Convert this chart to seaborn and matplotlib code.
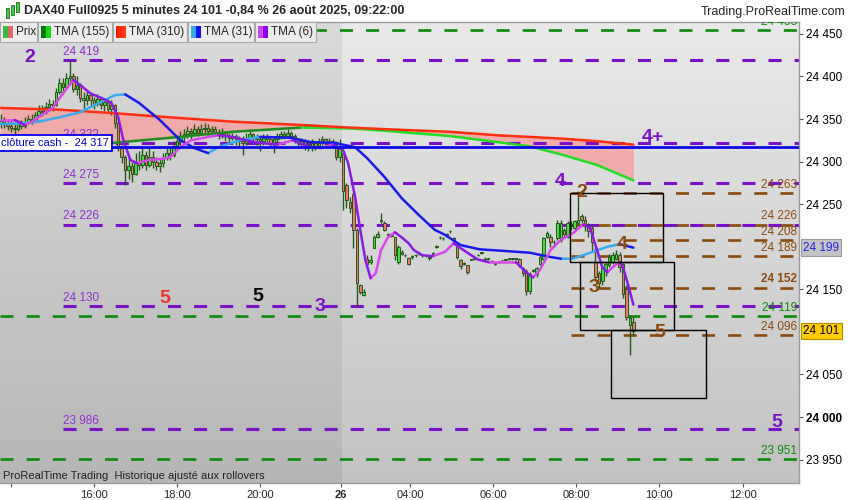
import numpy as np
import pandas as pd
import matplotlib
matplotlib.use("Agg")
import matplotlib.pyplot as plt
import matplotlib.transforms as mtransforms
from matplotlib.colors import LinearSegmentedColormap
from matplotlib.patches import Rectangle
import seaborn as sns

# x axis = 5 minute bar index, bar 0 = 16:00 on the 25th, bar 156 = 09:20 on the 26th
first_bar = -27

opens = [24345, 24348, 24345, 24342, 24340, 24338, 24344, 24342, 24347, 24350, 24348, 24355,
         24360, 24358, 24364, 24368, 24366, 24382, 24392, 24388, 24398, 24400, 24385, 24390,
         24375, 24372, 24378, 24372, 24368, 24374, 24366, 24370, 24362, 24366, 24345, 24318,
         24305, 24290, 24295, 24285, 24300, 24296, 24308, 24296, 24305, 24300, 24295, 24298,
         24304, 24310, 24308, 24318, 24324, 24330, 24332, 24336, 24334, 24338, 24334, 24338,
         24340, 24336, 24338, 24335, 24332, 24334, 24330, 24328, 24330, 24326, 24324, 24322,
         24328, 24332, 24328, 24326, 24324, 24328, 24326, 24322, 24326, 24330, 24332, 24330,
         24334, 24330, 24326, 24322, 24324, 24320, 24318, 24322, 24318, 24322, 24326, 24322,
         24324, 24320, 24306,
         24310, 24272, 24252, 24262, 24220, 24155, 24143, 24186, 24182, 24198, 24212, 24232,
         24228, 24214, 24214, 24211, 24182, 24194, 24190, 24187, 24188, 24190, 24192, 24190,
         24189, 24187, 24192, 24200, 24211, 24210, 24214, 24218, 24210, 24204, 24185, 24180,
         24178, 24185, 24186, 24190, 24193, 24186, 24186, 24183, 24180, 24182, 24184, 24185,
         24186, 24186, 24186, 24186, 24175, 24172, 24148, 24172, 24168, 24180, 24186, 24211,
         24212, 24206, 24210, 24208, 24220, 24212, 24224, 24222, 24228, 24236, 24232, 24224,
         24222, 24182, 24169, 24160, 24172, 24178, 24182, 24186, 24190, 24180, 24150, 24108,
         24112]
highs = [24356, 24352, 24350, 24348, 24344, 24348, 24349, 24352, 24355, 24356, 24358, 24366,
         24366, 24370, 24374, 24372, 24386, 24398, 24398, 24404, 24419, 24404, 24400, 24392,
         24382, 24384, 24380, 24376, 24380, 24376, 24375, 24374, 24372, 24368, 24348, 24320,
         24308, 24305, 24300, 24310, 24312, 24316, 24312, 24318, 24312, 24306, 24304, 24310,
         24316, 24316, 24324, 24330, 24336, 24338, 24342, 24340, 24344, 24342, 24344, 24345,
         24344, 24342, 24342, 24338, 24340, 24336, 24334, 24334, 24332, 24330, 24330, 24334,
         24338, 24334, 24332, 24330, 24332, 24332, 24330, 24330, 24334, 24336, 24336, 24338,
         24336, 24332, 24328, 24328, 24326, 24322, 24326, 24324, 24328, 24330, 24328, 24328,
         24326, 24324, 24326,
         24310, 24275, 24258, 24264, 24222, 24156, 24150, 24190, 24190, 24214, 24218, 24240,
         24230, 24216, 24216, 24212, 24202, 24196, 24192, 24188, 24190, 24192, 24194, 24192,
         24190, 24189, 24194, 24202, 24213, 24212, 24216, 24220, 24212, 24205, 24186, 24182,
         24179, 24186, 24187, 24191, 24194, 24188, 24187, 24184, 24181, 24183, 24185, 24186,
         24187, 24187, 24187, 24187, 24176, 24174, 24170, 24174, 24176, 24190, 24212, 24218,
         24215, 24208, 24231, 24231, 24222, 24230, 24230, 24232, 24266, 24238, 24236, 24228,
         24226, 24200, 24172, 24178, 24182, 24192, 24194, 24196, 24194, 24182, 24155, 24120,
         24118]
lows = [24340, 24340, 24337, 24335, 24333, 24336, 24338, 24340, 24344, 24344, 24347, 24354,
        24354, 24356, 24360, 24360, 24365, 24380, 24380, 24385, 24390, 24382, 24378, 24370,
        24362, 24366, 24364, 24362, 24365, 24362, 24360, 24358, 24355, 24340, 24312, 24298,
        24273, 24280, 24276, 24284, 24290, 24293, 24290, 24294, 24292, 24290, 24288, 24294,
        24302, 24302, 24306, 24314, 24320, 24324, 24328, 24326, 24330, 24330, 24332, 24334,
        24330, 24332, 24330, 24326, 24328, 24324, 24322, 24325, 24320, 24318, 24308, 24320,
        24326, 24322, 24320, 24312, 24320, 24322, 24318, 24310, 24322, 24326, 24326, 24328,
        24326, 24322, 24318, 24318, 24314, 24312, 24312, 24314, 24318, 24320, 24318, 24318,
        24316, 24302, 24300,
        24243, 24245, 24240, 24198, 24130, 24144, 24142, 24178, 24180, 24198, 24210, 24228,
        24218, 24212, 24212, 24185, 24180, 24190, 24188, 24178, 24186, 24188, 24190, 24188,
        24188, 24185, 24190, 24198, 24209, 24208, 24212, 24216, 24205, 24186, 24174, 24178,
        24168, 24184, 24185, 24189, 24192, 24182, 24185, 24182, 24179, 24181, 24183, 24184,
        24185, 24185, 24185, 24176, 24166, 24143, 24144, 24170, 24165, 24178, 24184, 24210,
        24200, 24200, 24208, 24205, 24212, 24210, 24220, 24220, 24226, 24228, 24218, 24212,
        24194, 24160, 24152, 24155, 24166, 24176, 24180, 24184, 24170, 24140, 24114, 24073,
        24096]
closes = [24348, 24345, 24342, 24340, 24338, 24344, 24342, 24347, 24350, 24348, 24355, 24360,
          24358, 24364, 24368, 24366, 24382, 24392, 24388, 24398, 24400, 24385, 24390, 24375,
          24372, 24378, 24372, 24368, 24374, 24366, 24370, 24362, 24366, 24345, 24318, 24305,
          24290, 24295, 24285, 24300, 24296, 24308, 24296, 24305, 24300, 24295, 24298, 24304,
          24310, 24308, 24318, 24324, 24330, 24332, 24336, 24334, 24338, 24334, 24338, 24340,
          24336, 24338, 24335, 24332, 24334, 24330, 24328, 24330, 24326, 24324, 24322, 24328,
          24332, 24328, 24326, 24324, 24328, 24326, 24322, 24326, 24330, 24332, 24330, 24334,
          24330, 24326, 24322, 24324, 24320, 24318, 24322, 24318, 24322, 24326, 24322, 24324,
          24320, 24306, 24315,
          24265, 24255, 24245, 24220, 24158, 24147, 24147, 24180, 24185, 24211, 24215, 24230,
          24220, 24214, 24213, 24190, 24200, 24192, 24190, 24180, 24188, 24190, 24192, 24190,
          24189, 24187, 24192, 24200, 24211, 24210, 24214, 24218, 24208, 24188, 24177, 24180,
          24170, 24185, 24186, 24190, 24193, 24184, 24186, 24183, 24180, 24182, 24184, 24185,
          24186, 24186, 24186, 24178, 24169, 24148, 24168, 24172, 24175, 24188, 24210, 24216,
          24206, 24205, 24228, 24228, 24215, 24228, 24226, 24230, 24232, 24231, 24226, 24218,
          24206, 24165, 24158, 24175, 24180, 24188, 24190, 24192, 24176, 24145, 24118, 24116,
          24101]

# moving averages
tma6_x = [-27, -23, -20, -18, -15, -12, -9, -6, -4, -1, 2, 5, 7, 8.5, 10.5, 12.5, 16, 19, 22, 25,
          28, 33, 36, 40, 44, 48, 53, 57.5, 62.5, 65.5, 69, 72, 73.5, 75.5, 77, 78.5, 80, 81.5, 83, 85,
          87, 89, 91, 92.5, 95, 98, 101.5, 104, 108, 111, 114, 119, 122, 125, 127, 129, 131, 132, 135, 138.5,
          141.5, 143.5, 145.5, 147, 148.5, 150, 152, 153, 154.5, 156]
tma6 = [24349, 24349, 24343, 24347, 24355, 24363, 24380, 24396, 24390, 24380, 24375, 24369, 24352, 24325,
        24302, 24298, 24302, 24303, 24305, 24317, 24325, 24329, 24331, 24329, 24325, 24322, 24320, 24325,
        24317, 24316, 24320, 24314, 24298, 24259, 24220, 24184, 24163, 24169, 24196, 24211, 24217, 24211,
        24204, 24196, 24190, 24189, 24194, 24204, 24193, 24185, 24182, 24182, 24182, 24170, 24164, 24173,
        24188, 24196, 24208, 24216, 24226, 24222, 24196, 24176, 24170, 24176, 24182, 24176, 24155, 24132]
tma31_x = [-27, -21, -16, -10, -4, 2, 6, 9, 13, 19, 25, 29, 33, 36, 42, 48, 57, 62.5, 69.5, 75.5,
           79, 84, 89, 94, 98.5, 101.5, 106, 111.5, 119, 126, 132, 135, 138.5, 143.5, 148.5, 152, 156]
tma31 = [24344, 24345, 24347, 24352, 24358, 24370, 24378, 24379, 24369, 24349, 24325, 24316, 24310, 24317,
         24325, 24329, 24328, 24323, 24322, 24317, 24304, 24282, 24257, 24237, 24220, 24214, 24202, 24197,
         24195, 24193, 24188, 24186, 24186, 24193, 24200, 24203, 24199]
slow_x = [-27, -10, 5.5, 22, 40, 60, 74, 85, 103, 116.5, 126, 135.5, 145.5, 156]
tma310 = [24363, 24361, 24357, 24352, 24347, 24343, 24340, 24338, 24335, 24331, 24329, 24327, 24324, 24320]
tma155 = [24320, 24320, 24322, 24328, 24335, 24340, 24339, 24336, 24330, 24323, 24318, 24308, 24296, 24278]

green_levels = [24455, 24119, 23951]
purple_levels = [24419, 24322, 24275, 24226, 24130, 23986]
brown_levels = [24263, 24226, 24208, 24189, 24152, 24096]
cash_close = 24317
last_price = 24101
last_tma31 = 24199

# price scale labels (24 200 and 24 100 sit under the value tags)
ytick_vals = [23950, 24000, 24050, 24150, 24250, 24300, 24350, 24400, 24450]

boxes = [(137.6, 164.5, 24182, 24263), (140.5, 167.7, 24102, 24182), (149.5, 177.0, 24022, 24102)]

PURPLE = '#7a10c8'
BROWN = '#8a4a0e'
GREEN = '#0a8a0a'
waves = [('2', -18.5, 24422, PURPLE), ('5', 20.5, 24139, '#ee3030'), ('5', 47.4, 24141, 'black'),
         ('3', 65.4, 24130, PURPLE), ('4', 134.8, 24277, PURPLE), ('4+', 161.6, 24328, PURPLE),
         ('5', 197.5, 23994, PURPLE), ('2', 141.1, 24264, BROWN), ('4', 152.7, 24203, BROWN),
         ('3', 144.6, 24152, BROWN), ('5', 163.7, 24099, BROWN)]

xtick_pos = [-24, 0, 24, 48, 71.5, 91.5, 115.5, 139.5, 163.5, 187.7]
xtick_lab = ['', '16:00', '18:00', '20:00', '26', '04:00', '06:00', '08:00', '10:00', '12:00']


def fmt(v):
    return f"{v:,}".replace(',', ' ')


def ma_segments(xs, ys, rise_col, fall_col):
    # split a line into runs of rising / falling so each run gets its own colour
    rows, seg, prev = [], 0, None
    for k in range(1, len(xs)):
        col = rise_col if ys[k] >= ys[k - 1] else fall_col
        if col != prev:
            seg += 1
            prev = col
            rows.append((xs[k - 1], ys[k - 1], col, seg))
        rows.append((xs[k], ys[k], col, seg))
    return pd.DataFrame(rows, columns=['bar', 'price', 'col', 'seg'])


sns.set_theme(style="white")
plt.rcParams['font.family'] = ['Liberation Sans', 'DejaVu Sans']
plt.rcParams['lines.scale_dashes'] = False

fig = plt.figure(figsize=(8.5, 5), dpi=100)
ax = fig.add_axes([0, 17 / 500, 799 / 850, 461 / 500])
x_lo, x_hi = -27.2, 203.9
y_lo, y_hi = 23922.5, 24464

# background gradient + darker previous session
bg = LinearSegmentedColormap.from_list('bg', ['#e9e9e9', '#c2c2c2'])
ax.imshow(np.linspace(0, 1, 256)[:, None], extent=[x_lo, x_hi, y_lo, y_hi], aspect='auto',
          cmap=bg, zorder=0)
ax.axvspan(x_lo, 71.6, color='black', alpha=0.06, lw=0, zorder=0.5)

# zone between the two slow averages
ax.fill_between(slow_x, tma310, tma155, color='#f4a2a2', alpha=0.85, lw=0, zorder=1)

# horizontal levels
for y in green_levels:
    ax.plot([x_lo, x_hi], [y, y], color=GREEN, lw=1.9, dashes=(9.4, 9.4), zorder=2)
for y in brown_levels:
    ax.plot([138, x_hi], [y, y], color=BROWN, lw=1.9, dashes=(9.4, 9.4), zorder=2)
for y in purple_levels:
    ax.plot([-9, x_hi], [y, y], color=PURPLE, lw=2.2, dashes=(9.4, 9.4), zorder=2.1)
ax.plot([x_lo, x_hi], [cash_close, cash_close], color='#0a0ae6', lw=2, zorder=6)

# candles
bars = np.arange(first_bar, first_bar + len(closes))
o, h, l, c = map(np.array, (opens, highs, lows, closes))
up = c >= o
wick = '#25561a'
ax.vlines(bars, l, h, color=wick, lw=1.0, zorder=3)
ax.bar(bars, np.maximum(np.abs(c - o), 0.6), bottom=np.minimum(o, c), width=0.72,
       color=np.where(up, '#3ee03e', '#f07868'), edgecolor=wick, linewidth=0.7, zorder=4)

# moving averages
for xs, ys, rc, fc in [(slow_x, tma155, '#1e8c1e', '#22dd22'),
                       (slow_x, tma310, '#ff3010', '#ff3010'),
                       (tma31_x, tma31, '#3aaaf0', '#1a1aee'),
                       (tma6_x, tma6, '#d846ec', '#8a1ae8')]:
    df = ma_segments(xs, ys, rc, fc)
    sns.lineplot(data=df, x='bar', y='price', hue='col', units='seg', estimator=None,
                 palette={rc: rc, fc: fc}, sort=False, legend=False, lw=1.8, ax=ax, zorder=5)

# level labels
for y in purple_levels:
    ax.text(-9, y + 2.5, fmt(y), color='#9030d0', fontsize=8.5, ha='left', va='bottom', zorder=2.5)
for y in brown_levels:
    ax.text(203.4, y + 2.5, fmt(y), color=BROWN, fontsize=8.5, ha='right', va='bottom', zorder=2.5,
            fontweight='bold' if y == 24152 else 'normal')
for y in green_levels:
    ax.text(203.4, y + 2.5, fmt(y), color=GREEN, fontsize=8.5, ha='right', va='bottom', zorder=2.6,
            clip_on=True)

ax.text(-26.9, 24322, 'clôture cash -  24 317', fontsize=8, color='#0000cc', ha='left', va='center',
        zorder=8, bbox=dict(boxstyle='square,pad=0.3', fc='white', ec='#0000ee', lw=1.3))

for x0, x1, y0, y1 in boxes:
    ax.add_patch(Rectangle((x0, y0), x1 - x0, y1 - y0, fill=False, ec='black', lw=1, zorder=7))

for txt, x, y, col in waves:
    ax.text(x, y, txt, color=col, fontsize=14, fontweight='bold', ha='center', va='center', zorder=9)

ax.text(0.004, 0.016, 'ProRealTime Trading  Historique ajusté aux rollovers', transform=ax.transAxes,
        fontsize=8, color='#222222', ha='left', va='center')

# axes
ax.set_xlim(x_lo, x_hi)
ax.set_ylim(y_lo, y_hi)
ax.set_xlabel('')
ax.set_ylabel('')
ax.set_yticks(ytick_vals)
ax.set_yticklabels([fmt(v) for v in ytick_vals])
ax.set_xticks(xtick_pos)
ax.set_xticklabels(xtick_lab)
ax.tick_params(axis='y', left=False, right=True, labelleft=False, labelright=True, length=3,
               width=0.8, color='#555555', pad=2, labelsize=8.5, labelcolor='black')
ax.tick_params(axis='x', bottom=True, length=3, width=0.8, color='#555555', pad=2, labelsize=8)
for lab in ax.get_yticklabels():
    if lab.get_text() == '24 000':
        lab.set_fontweight('bold')
for lab in ax.get_xticklabels():
    if lab.get_text() == '26':
        lab.set_fontweight('bold')
for side in ['top', 'right', 'bottom']:
    ax.spines[side].set_color('#9a9a9a')
    ax.spines[side].set_linewidth(1)
ax.spines['left'].set_visible(False)

# value tags on the price scale
tr = mtransforms.blended_transform_factory(ax.transAxes, ax.transData)
ax.text(1.005, last_tma31, fmt(last_tma31), transform=tr, fontsize=8.5, color='#2020ee', va='center',
        ha='left', bbox=dict(boxstyle='square,pad=0.2', fc='#c4c4c4', ec='#9a9a9a', lw=0.8), clip_on=False)
ax.text(1.005, last_price, fmt(last_price), transform=tr, fontsize=8.5, color='black', va='center',
        ha='left', bbox=dict(boxstyle='square,pad=0.2', fc='#ffcc00', ec='#b09000', lw=0.8), clip_on=False)

# header
fig.text(24 / 850, 1 - 11 / 500, 'DAX40 Full0925 5 minutes 24 101 -0,84 % 26 août 2025, 09:22:00',
         fontsize=9, fontweight='bold', va='center', ha='left')
fig.text(845 / 850, 1 - 12 / 500, 'Trading.ProRealTime.com', fontsize=9, va='center', ha='right')
for px, top, bot in [(6, 8, 18), (11, 5, 15), (16, 2, 12)]:
    fig.add_artist(Rectangle((px / 850, 1 - bot / 500), 3 / 850, (bot - top) / 500,
                             transform=fig.transFigure, fc='#44cc44', ec='#226622', lw=0.6))

# legend row
legend_items = [('Prix', 0, 37, ['#3cb93c', '#e06a6a']),
                ('TMA (155)', 38, 112, ['#0a7a0a', '#11dd11']),
                ('TMA (310)', 113, 187, ['#ff2200', '#ff3a10']),
                ('TMA (31)', 188, 254, ['#33aaee', '#1111ff']),
                ('TMA (6)', 255, 316, ['#cc44ee', '#8800ee'])]
for name, x0, x1, cols in legend_items:
    fig.add_artist(Rectangle((x0 / 850, 1 - 42 / 500), (x1 - x0) / 850, 20 / 500,
                             transform=fig.transFigure, fc='#ececec', ec='#a8a8a8', lw=0.8, zorder=10))
    for k, col in enumerate(cols):
        fig.add_artist(Rectangle(((x0 + 3 + 5 * k) / 850, 1 - 38 / 500), 5 / 850, 12 / 500,
                                 transform=fig.transFigure, fc=col, lw=0, zorder=11))
    fig.text((x0 + 16) / 850, 1 - 32 / 500, name, fontsize=8.5, va='center', ha='left', zorder=12)

fig.savefig('out.png', dpi=100)
